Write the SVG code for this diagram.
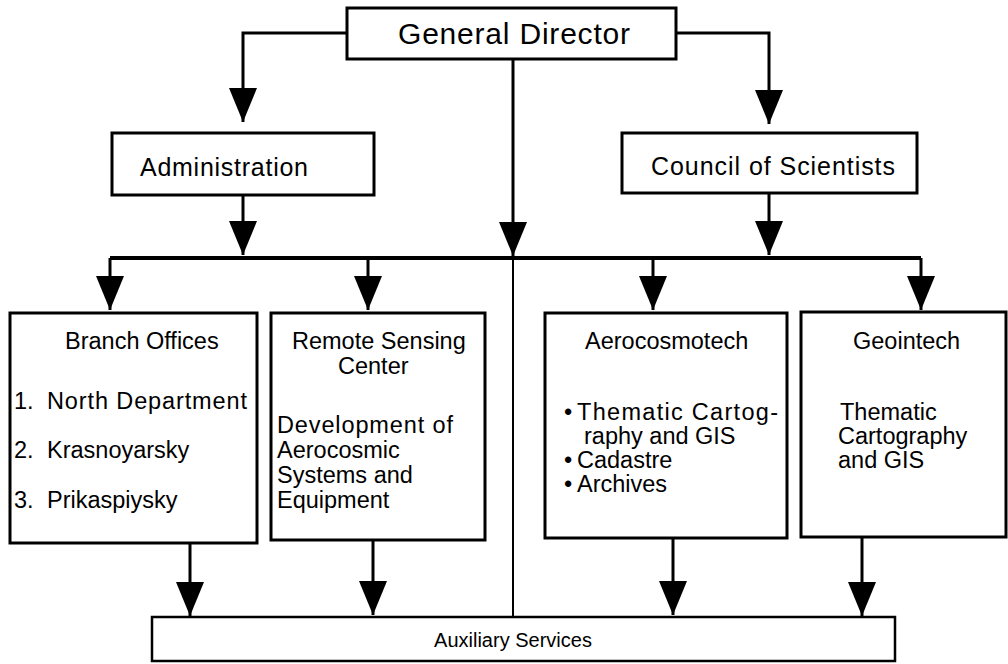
<svg xmlns="http://www.w3.org/2000/svg" width="1008" height="664" viewBox="0 0 1008 664">
  <style>
    .box { fill: #ffffff; stroke: #000000; stroke-width: 3; }
    .aux { fill: #ffffff; stroke: #000000; stroke-width: 2.5; }
    .line { fill: none; stroke: #000000; stroke-width: 3; }
    .bus { fill: none; stroke: #000000; stroke-width: 4; }
    .thin { fill: none; stroke: #000000; stroke-width: 2; }
    text { font-family: "Liberation Sans", Arial, Helvetica, sans-serif; fill: #000000; }
    .title { font-size: 30px; }
    .head { font-size: 25px; }
    .body { font-size: 23.5px; }
    .small { font-size: 20px; }
  </style>
  <defs>
    <marker id="arrow" markerUnits="userSpaceOnUse" markerWidth="34" markerHeight="28" viewBox="0 0 34 28" refX="34" refY="14" orient="auto">
      <path d="M0,0 L34,14 L0,28 Z" fill="#000000"/>
    </marker>
  </defs>

  <rect width="1008" height="664" fill="#ffffff"/>

  <!-- connectors -->
  <g id="connectors">
    <path class="line" d="M347,33 H243 V122" marker-end="url(#arrow)"/>
    <path class="line" d="M676,33 H769 V124" marker-end="url(#arrow)"/>
    <path class="line" d="M513,59 V256" marker-end="url(#arrow)"/>
    <path class="thin" d="M513,256 V617"/>
    <path class="line" d="M243,195 V255" marker-end="url(#arrow)"/>
    <path class="line" d="M769,193 V255" marker-end="url(#arrow)"/>
    <path class="bus" d="M110,258 H921"/>
    <path class="line" d="M110,258 V310" marker-end="url(#arrow)"/>
    <path class="line" d="M368,258 V310" marker-end="url(#arrow)"/>
    <path class="line" d="M653,258 V310" marker-end="url(#arrow)"/>
    <path class="line" d="M921,258 V310" marker-end="url(#arrow)"/>
    <path class="line" d="M190,543 V616" marker-end="url(#arrow)"/>
    <path class="line" d="M373,540 V615" marker-end="url(#arrow)"/>
    <path class="line" d="M673,538 V615" marker-end="url(#arrow)"/>
    <path class="line" d="M862,537 V616" marker-end="url(#arrow)"/>
  </g>

  <g id="general-director">
    <rect class="box" x="347" y="8" width="329" height="51"/>
    <text class="title" x="398" y="44" textLength="232" lengthAdjust="spacing">General Director</text>
  </g>

  <g id="administration">
    <rect class="box" x="112" y="133" width="262" height="62"/>
    <text class="head" x="140" y="176" textLength="168" lengthAdjust="spacing">Administration</text>
  </g>

  <g id="council">
    <rect class="box" x="622" y="133" width="295" height="60"/>
    <text class="head" x="651" y="175" textLength="244" lengthAdjust="spacing">Council of Scientists</text>
  </g>

  <g id="branch-offices">
    <rect class="box" x="10" y="313" width="247" height="230"/>
    <text class="body" x="65" y="349">Branch Offices</text>
    <text class="body" x="14" y="409">1.</text>
    <text class="body" x="47" y="409" textLength="200" lengthAdjust="spacing">North Department</text>
    <text class="body" x="14" y="458">2.</text>
    <text class="body" x="47" y="458">Krasnoyarsky</text>
    <text class="body" x="14" y="508">3.</text>
    <text class="body" x="47" y="508">Prikaspiysky</text>
  </g>

  <g id="remote-sensing">
    <rect class="box" x="271" y="313" width="214" height="227"/>
    <text class="body" x="292" y="349">Remote Sensing</text>
    <text class="body" x="338" y="374">Center</text>
    <text class="body" x="277" y="433" textLength="176" lengthAdjust="spacing">Development of</text>
    <text class="body" x="277" y="458">Aerocosmic</text>
    <text class="body" x="277" y="483">Systems and</text>
    <text class="body" x="277" y="508">Equipment</text>
  </g>

  <g id="aerocosmotech">
    <rect class="box" x="545" y="313" width="242" height="225"/>
    <text class="body" x="585" y="349">Aerocosmotech</text>
    <text class="body" x="564" y="420">•</text>
    <text class="body" x="577" y="420" textLength="201" lengthAdjust="spacing">Thematic Cartog-</text>
    <text class="body" x="584" y="444">raphy and GIS</text>
    <text class="body" x="564" y="468">•</text>
    <text class="body" x="577" y="468">Cadastre</text>
    <text class="body" x="564" y="492">•</text>
    <text class="body" x="577" y="492">Archives</text>
  </g>

  <g id="geointech">
    <rect class="box" x="801" y="312" width="205" height="225"/>
    <text class="body" x="853" y="349">Geointech</text>
    <text class="body" x="840" y="420">Thematic</text>
    <text class="body" x="838" y="444">Cartography</text>
    <text class="body" x="838" y="468">and GIS</text>
  </g>

  <g id="auxiliary-services">
    <rect class="aux" x="152" y="617" width="743" height="44"/>
    <text class="small" x="513" y="647" text-anchor="middle">Auxiliary Services</text>
  </g>
</svg>
